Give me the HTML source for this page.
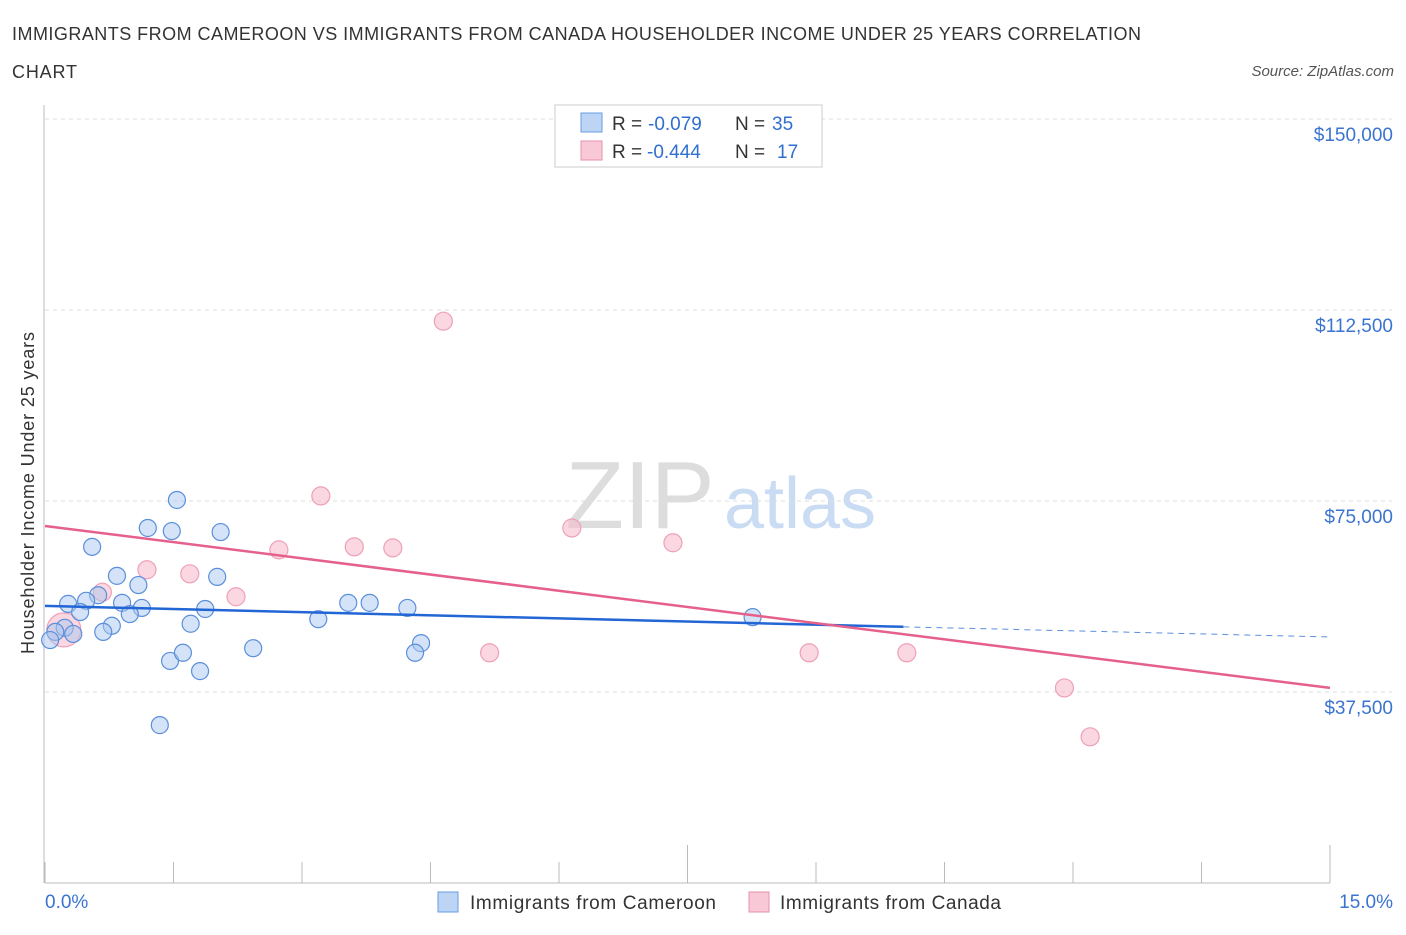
<!DOCTYPE html>
<html><head><meta charset="utf-8"><style>
body{margin:0;background:#fff;font-family:"Liberation Sans",sans-serif;}
svg text{font-family:"Liberation Sans",sans-serif;}
</style></head><body>
<svg id="c" width="1406" height="930">
<text x="12" y="40" font-size="18" fill="#333" textLength="1129">IMMIGRANTS FROM CAMEROON VS IMMIGRANTS FROM CANADA HOUSEHOLDER INCOME UNDER 25 YEARS CORRELATION</text>
<text x="12" y="78" font-size="18" fill="#333" textLength="65">CHART</text>
<text x="1394" y="76" font-size="15" fill="#555" font-style="italic" text-anchor="end">Source: ZipAtlas.com</text>
<text x="640" y="528" font-size="96" fill="#ddd" font-family="Liberation Serif" text-anchor="middle">ZIP</text>
<text x="800" y="528" font-size="72" fill="#c9dcf3" text-anchor="middle">atlas</text>
<text transform="translate(34,493) rotate(-90)" font-size="18" fill="#333" text-anchor="middle" textLength="322">Householder Income Under 25 years</text>
<g id="grid"></g><g id="marks"></g>
<rect x="555" y="105" width="267" height="62" fill="#fff" stroke="#ccc"/>
<rect x="581" y="113" width="21" height="19" fill="#bcd5f5" stroke="#6a9be0"/>
<rect x="581" y="141" width="21" height="19" fill="#f9c8d6" stroke="#e690ac"/>
<text x="612" y="130" font-size="19" fill="#333">R =</text>
<text x="648" y="130" font-size="19" fill="#2f6fd0">-0.079</text>
<text x="735" y="130" font-size="19" fill="#333">N =</text>
<text x="772" y="130" font-size="19" fill="#2f6fd0">35</text>
<text x="612" y="158" font-size="19" fill="#333">R =</text>
<text x="647" y="158" font-size="19" fill="#2f6fd0">-0.444</text>
<text x="735" y="158" font-size="19" fill="#333">N =</text>
<text x="777" y="158" font-size="19" fill="#2f6fd0">17</text>
<rect x="438" y="892" width="20" height="20" fill="#bcd5f5" stroke="#6a9be0"/>
<text x="470" y="909" font-size="19" fill="#333" textLength="246">Immigrants from Cameroon</text>
<rect x="749" y="892" width="20" height="20" fill="#f9c8d6" stroke="#e690ac"/>
<text x="780" y="909" font-size="19" fill="#333" textLength="221">Immigrants from Canada</text>
</svg>
<script>
const blueX=[1.54,1.20,1.48,2.05,0.55,0.84,2.01,1.09,0.62,0.27,0.48,0.90,1.13,0.41,0.99,1.87,0.78,1.70,0.68,0.23,0.12,0.06,0.33,1.46,1.61,1.81,2.43,1.34,3.19,3.54,3.79,4.23,4.39,4.32,8.26];
const blueY=[75200,69700,69100,68900,66000,60300,60100,58500,56500,54800,55400,55000,54000,53200,52800,53800,50500,50900,49300,50100,49300,47700,48900,43600,45200,41600,46100,31000,51800,55000,55000,54000,47100,45200,52200];
const pinkX=[4.65,3.22,6.15,7.33,2.73,3.61,4.06,1.19,1.69,2.23,0.67,0.22,5.19,8.92,10.06,11.90,12.20];
const pinkY=[110300,76000,69700,66800,65400,66000,65800,61500,60700,56200,57100,49700,45200,45200,45200,38300,28700];
const blueTrend=[[0,54400],[10.02,50300],[15,48300]];
const pinkTrend=[[0,70100],[15,38300]];
const yTicks=[150000,112500,75000,37500];
const yTickLabels=["$150,000","$112,500","$75,000","$37,500"];
const xTicks=[0,1.5,3,4.5,6,7.5,9,10.5,12,13.5,15];
const xs=v=>45+v/15*1285, ys=v=>883-v/37500*191;
const NS="http://www.w3.org/2000/svg";
function mk(t,p,a){const e=document.createElementNS(NS,t);for(const k in a)e.setAttribute(k,a[k]);p.appendChild(e);return e;}
const g=document.getElementById('grid'),m=document.getElementById('marks');
yTicks.forEach((v,i)=>{
 const l=mk('line',g,{x1:45,x2:1392,y1:ys(v),y2:ys(v),stroke:'#ddd','stroke-dasharray':'4,4'});
 
 
 const t=mk('text',g,{x:1393,y:ys(v)+22,'font-size':19,fill:'#3a74d0','text-anchor':'end'});
 t.textContent=yTickLabels[i];
 
 
});
const ax=mk('line',g,{x1:45,x2:1330,y1:883,y2:883,stroke:'#bbb'});


const ay=mk('line',g,{x1:44,x2:44,y1:105,y2:883,stroke:'#bbb'});


xTicks.forEach((v,i)=>{
 const l=mk('line',g,{x1:xs(v),x2:xs(v),y1:(i==5||i==10)?845:862,y2:883,stroke:'#bbb'});
 
 
});
const t0=mk('text',g,{x:45,y:908,'font-size':19,fill:'#3a74d0'});t0.textContent='0.0%';


const t1=mk('text',g,{x:1393,y:908,'font-size':19,fill:'#3a74d0','text-anchor':'end'});t1.textContent='15.0%';


pinkX.forEach((x,i)=>{
 const c=mk('circle',m,{cx:xs(x),cy:ys(pinkY[i]),r:i==11?17:9,fill:'rgba(246,182,201,0.55)',stroke:'#eea0b8','stroke-width':1.2});
 
 
});
blueX.forEach((x,i)=>{
 const c=mk('circle',m,{cx:xs(x),cy:ys(blueY[i]),r:8.5,fill:'rgba(170,200,240,0.5)',stroke:'#5b8fdc','stroke-width':1.2});
 
 
});
const b1=mk('line',m,{x1:xs(blueTrend[0][0]),y1:ys(blueTrend[0][1]),x2:xs(blueTrend[1][0]),y2:ys(blueTrend[1][1]),stroke:'#2166d4','stroke-width':2.5});


const b2=mk('line',m,{x1:xs(blueTrend[1][0]),y1:ys(blueTrend[1][1]),x2:xs(blueTrend[2][0]),y2:ys(blueTrend[2][1]),stroke:'#5b8fdc','stroke-width':1,'stroke-dasharray':'6,5'});


const p1=mk('line',m,{x1:xs(pinkTrend[0][0]),y1:ys(pinkTrend[0][1]),x2:xs(pinkTrend[1][0]),y2:ys(pinkTrend[1][1]),stroke:'#e5608a','stroke-width':2.5});


</script>
</body></html>
